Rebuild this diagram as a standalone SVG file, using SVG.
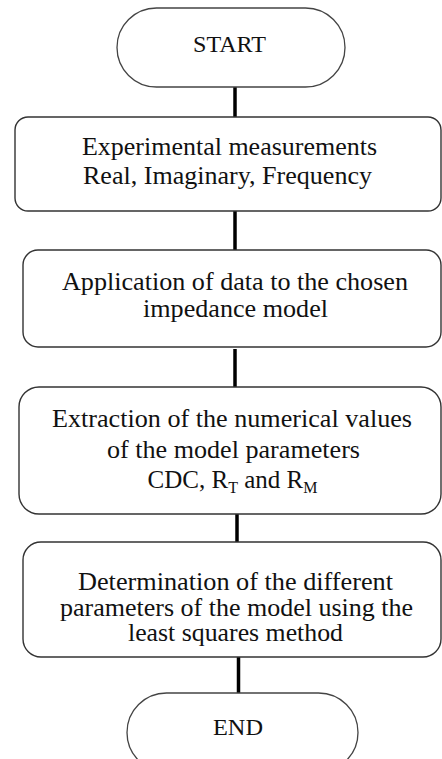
<svg xmlns="http://www.w3.org/2000/svg" width="442" height="759" viewBox="0 0 442 759">
<style>
.box{fill:#fff;stroke:#333;stroke-width:1.4}
.term{fill:#fff;stroke:#444;stroke-width:1.3}
.t{font-size:25px;fill:#111;text-anchor:middle}
.tt{font-size:24px;fill:#111;text-anchor:middle}
.sub{font-size:16px}
.conn{stroke:#000;stroke-width:3.5;fill:none}
</style>
<rect width="442" height="759" fill="#fff"/>
<g id="connectors">
<line class="conn" x1="235" y1="87" x2="235" y2="117"/>
<line class="conn" x1="235" y1="211" x2="235" y2="250"/>
<line class="conn" x1="235" y1="349" x2="235" y2="387"/>
<line class="conn" x1="237" y1="503" x2="237" y2="542"/>
<line class="conn" x1="238.5" y1="657" x2="238.5" y2="693"/>
</g>
<g font-family="Liberation Serif, Times New Roman, DejaVu Serif, serif">
<g id="start">
<rect class="term" x="117" y="8" width="228" height="79" rx="39.5" ry="39.5"/>
<text class="tt" x="229.5" y="52" textLength="73" lengthAdjust="spacingAndGlyphs">START</text>
</g>
<g id="measurements">
<rect class="box" x="15" y="117" width="426" height="94" rx="13" ry="13"/>
<text class="t" x="229.5" y="155" textLength="295" lengthAdjust="spacingAndGlyphs">Experimental measurements</text>
<text class="t" x="227.5" y="184" textLength="289" lengthAdjust="spacingAndGlyphs">Real, Imaginary, Frequency</text>
</g>
<g id="application">
<rect class="box" x="23" y="250" width="418" height="97" rx="15" ry="15"/>
<text class="t" x="235" y="290" textLength="346" lengthAdjust="spacingAndGlyphs">Application of data to the chosen</text>
<text class="t" x="235.5" y="317" textLength="185" lengthAdjust="spacingAndGlyphs">impedance model</text>
</g>
<g id="extraction">
<rect class="box" x="19" y="387" width="422" height="127" rx="20" ry="20"/>
<text class="t" x="232" y="427" textLength="360" lengthAdjust="spacingAndGlyphs">Extraction of the numerical values</text>
<text class="t" x="233.5" y="458" textLength="253" lengthAdjust="spacingAndGlyphs">of the model parameters</text>
<text class="t" x="232.5" y="488">CDC, R<tspan class="sub" dy="5">T</tspan><tspan dy="-5"> and R</tspan><tspan class="sub" dy="5">M</tspan></text>
</g>
<g id="determination">
<rect class="box" x="23" y="542" width="418" height="115" rx="18" ry="18"/>
<text class="t" x="235.5" y="590" textLength="315" lengthAdjust="spacingAndGlyphs">Determination of the different</text>
<text class="t" x="236.5" y="616" textLength="353" lengthAdjust="spacingAndGlyphs">parameters of the model using the</text>
<text class="t" x="235.5" y="641" textLength="215" lengthAdjust="spacingAndGlyphs">least squares method</text>
</g>
<g id="end">
<rect class="term" x="127" y="693" width="231" height="79" rx="39.5" ry="39.5"/>
<text class="tt" x="238" y="735" textLength="50" lengthAdjust="spacingAndGlyphs">END</text>
</g>
</g>
</svg>
